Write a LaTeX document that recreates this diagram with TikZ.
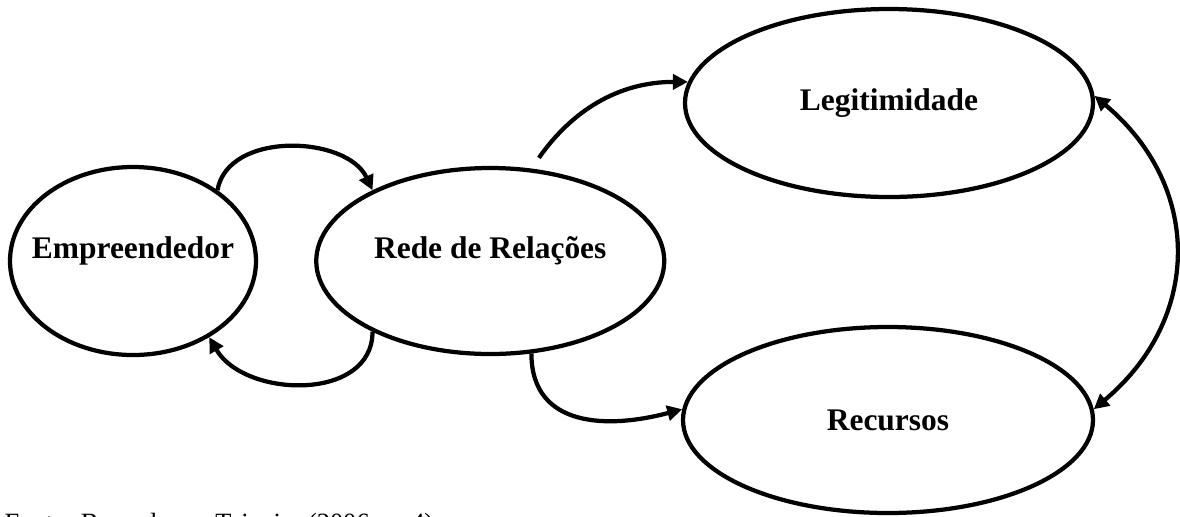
\documentclass[tikz,border=0pt]{standalone}
\usepackage{fontspec}
\setmainfont{Liberation Serif}
\usetikzlibrary{shapes.geometric,arrows.meta,positioning}

\begin{document}
\begin{tikzpicture}[line width=0.085cm,
    every node/.style={draw,ellipse,inner sep=0pt,font=\bfseries\fontsize{17.9}{21}\selectfont},
    raised/.style={text height=0.45cm,text depth=0.57cm},
    >={Triangle[length=0.3cm,width=0.3cm]}
    ]

    \useasboundingbox (0,0) rectangle (23.6,-10.32);

    % the actors
    \node[raised,inner xsep=-0.35cm,minimum width=4.92cm,minimum height=3.76cm] (emp) at (2.66,-5.22) {Empreendedor};
    \node[raised,minimum width=6.96cm,minimum height=3.72cm,right=1.12cm of emp] (rede) {Rede de Relações};

    % the outcomes
    \node[minimum width=8.16cm,minimum height=3.76cm] (legit) at (17.78,-2.06) {Legitimidade};
    \node[minimum width=8.2cm,minimum height=3.72cm] (rec) at (17.76,-8.40) {Recursos};

    % the source
    \node[draw=none,rectangle,anchor=base west,font=\fontsize{15}{18}\selectfont] (fonte) at (0.05,-10.62) {Fonte: Baseado em Teixeira (2006, p. 4)};

    % the links
    \draw[->] (emp.40) to[out=80,in=115] (rede.149);
    \draw[->] (rede.211) to[out=-90,in=-60,looseness=1.1] (emp.315);
    \draw[->,shorten <=0.26cm] (rede.66) to[out=55,in=180] (legit.174);
    \draw[->] (rede.294) to[out=-90,in=195,looseness=1.2] (rec.177);
    \draw[<->] (legit.2) to[out=-40,in=40,looseness=1.15] (rec.3);

\end{tikzpicture}
\end{document}
